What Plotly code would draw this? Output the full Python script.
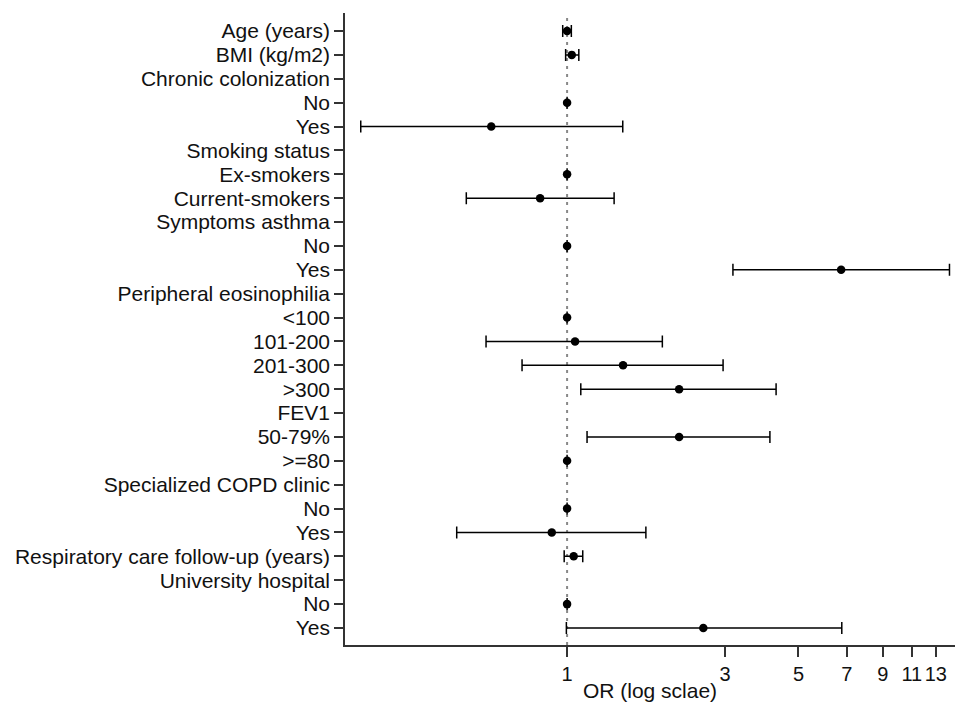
import plotly.graph_objects as go

labels = ["Age (years)", "BMI (kg/m2)", "Chronic colonization", "No", "Yes",
          "Smoking status", "Ex-smokers", "Current-smokers", "Symptoms asthma",
          "No", "Yes", "Peripheral eosinophilia", "<100", "101-200", "201-300",
          ">300", "FEV1", "50-79%", ">=80", "Specialized COPD clinic", "No", "Yes",
          "Respiratory care follow-up (years)", "University hospital", "No", "Yes"]
# None = header row (no estimate)
odds = [1.00, 1.033, None, 1.0, 0.59, None, 1.0, 0.829, None, 1.0, 6.73, None, 1.0,
        1.057, 1.476, 2.18, None, 2.18, 1.0, None, 1.0, 0.899, 1.047, None, 1.0, 2.58]
lower = [0.97, 0.99, None, 1.0, 0.238, None, 1.0, 0.496, None, 1.0, 3.17, None, 1.0,
         0.569, 0.731, 1.10, None, 1.149, 1.0, None, 1.0, 0.464, 0.98, None, 1.0, 0.995]
upper = [1.03, 1.085, None, 1.0, 1.473, None, 1.0, 1.387, None, 1.0, 14.3, None, 1.0,
         1.94, 2.96, 4.28, None, 4.10, 1.0, None, 1.0, 1.73, 1.115, None, 1.0, 6.76]
xticks = [1, 3, 5, 7, 9, 11, 13]

rows = list(range(len(labels)))
xs, ys, ep, em = [], [], [], []
for i, (o, lo, hi) in enumerate(zip(odds, lower, upper)):
    if o is None:
        continue
    xs.append(o)
    ys.append(i)
    ep.append(hi - o)
    em.append(o - lo)

fig = go.Figure()
fig.add_trace(go.Scatter(
    x=xs, y=ys, mode="markers",
    marker=dict(color="black", size=8.5),
    error_x=dict(type="data", symmetric=False, array=ep, arrayminus=em,
                 color="black", thickness=1.5, width=6),
    showlegend=False, hoverinfo="x+y"))

fig.add_shape(type="line", xref="x", yref="paper", x0=1, x1=1, y0=0, y1=1,
              line=dict(color="#888888", width=2, dash="3px,5px"), layer="below")

n = len(labels)
fig.update_layout(
    width=955, height=703,
    margin=dict(l=345, r=0, t=13, b=58, autoexpand=False),
    plot_bgcolor="white", paper_bgcolor="white",
    font=dict(family="Liberation Sans, Arial, sans-serif", size=21, color="#111"),
    xaxis=dict(type="log", range=[-0.671, 1.172], tickvals=xticks,
               ticktext=[str(v) for v in xticks], ticks="outside", ticklen=10,
               tickwidth=1.5, tickcolor="#333", showline=True, linecolor="#333",
               linewidth=1.5, showgrid=False, zeroline=False, tickangle=0,
               title=dict(text="OR (log sclae)", standoff=0, font=dict(size=21)),
               tickfont=dict(size=20)),
    yaxis=dict(range=[n - 1 + 0.712, -0.754], tickvals=rows, ticktext=labels,
               ticks="outside", ticklen=9, tickwidth=1.5, tickcolor="#333",
               showline=True, linecolor="#333", linewidth=1.5, showgrid=False,
               zeroline=False, tickfont=dict(size=21)),
)
fig.write_html("out.html")
